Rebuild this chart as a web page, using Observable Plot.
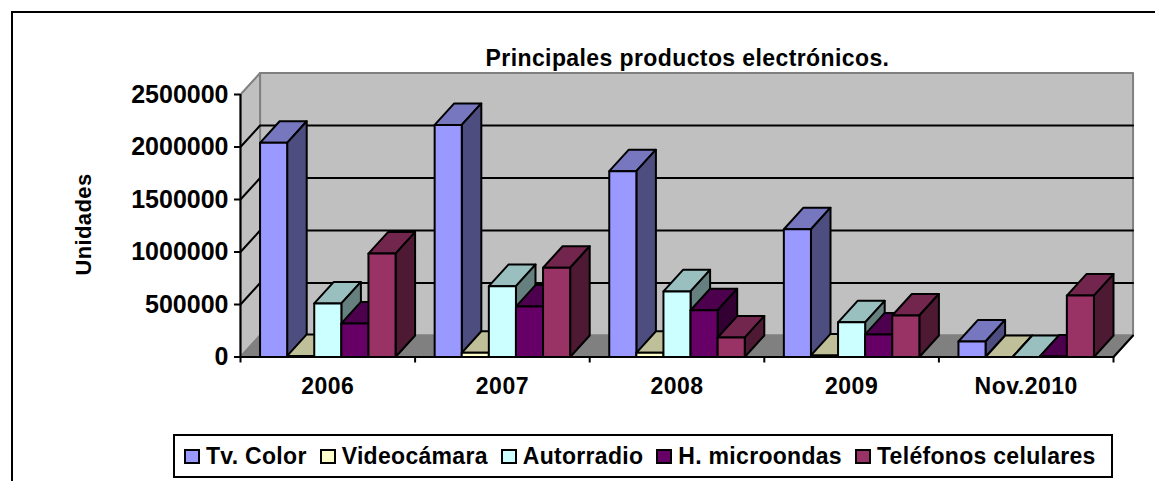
<!DOCTYPE html>
<html><head><meta charset="utf-8">
<script src="https://cdn.jsdelivr.net/npm/d3@7"></script>
<script src="https://cdn.jsdelivr.net/npm/@observablehq/plot@0.6"></script>
<style>
html,body{margin:0;padding:0;background:#fff;overflow:hidden}
#wrap{position:relative;width:1155px;height:481px;overflow:hidden;font-family:"Liberation Sans",Arial,sans-serif}
#frame{position:absolute;left:11px;top:11px;width:2000px;height:2000px;border:2px solid #000;box-sizing:border-box}
#chart{position:absolute;left:0;top:0}
#chart svg{background:transparent;display:block}
#chart g[aria-label="x-axis tick label"] text{letter-spacing:.5px}
#chart g[aria-label="text"] text{letter-spacing:.4px}
#legend{position:absolute;left:173px;top:434px;width:940px;height:44px;box-sizing:border-box;border:2px solid #000;background:#fff;display:flex;align-items:center;font-weight:bold;font-size:23px;letter-spacing:.3px;color:#000;white-space:nowrap;padding-left:9px}
#legend .sw{display:inline-block;width:16px;height:15px;border:2px solid #000;box-sizing:border-box;margin-right:6px}
#legend .it{display:flex;align-items:center;margin-right:13px}
</style></head><body>
<div id="wrap"><div id="frame"></div><div id="chart"></div><div id="legend"></div></div>
<script>
const categories = ["2006","2007","2008","2009","Nov.2010"];
const seriesNames = ["Tv. Color","Videocámara","Autorradio","H. microondas","Teléfonos celulares"];
const tvColor = [2040000,2210000,1770000,1217000,148000];
const videocamara = [10000,40000,40000,15000,0];
const autorradio = [510000,675000,625000,330000,0];
const microondas = [320000,480000,445000,215000,5000];
const telefonos = [985000,850000,185000,395000,585000];
const yTicks = [0,500000,1000000,1500000,2000000,2500000];
const frontColors = ["#9999FF","#FFFFCC","#CCFFFF","#660066","#993366"];
const topColors = ["#7777BF","#BFBF99","#99BFBF","#4D004D","#73264D"];
const sideColors = ["#4D4D80","#808066","#668080","#330033","#4D1933"];

const allSeries = [tvColor,videocamara,autorradio,microondas,telefonos];
const depthX = 0.112, depthY = 205000, gap = 0.112, barW = (1 - 2*gap)/5;
const yMax = 2500000, n = categories.length;

const faces = [];
function face(id, fill, pts){ pts.forEach(([x,y]) => faces.push({id, fill, x, y})); }
categories.forEach((c,i) => allSeries.forEach((s,j) => {
  const x0 = i + gap + j*barW, x1 = x0 + barW, v = s[i];
  face(`${i}-${j}-top`, topColors[j], [[x0,v],[x1,v],[x1+depthX,v+depthY],[x0+depthX,v+depthY]]);
  face(`${i}-${j}-side`, sideColors[j], [[x1,0],[x1+depthX,depthY],[x1+depthX,v+depthY],[x1,v]]);
  face(`${i}-${j}-front`, frontColors[j], [[x0,0],[x1,0],[x1,v],[x0,v]]);
}));

const walls = [];
function wall(id, fill, pts){ pts.forEach(([x,y]) => walls.push({id, fill, x, y})); }
wall("back","#C0C0C0",[[depthX,depthY],[n+depthX,depthY],[n+depthX,yMax+depthY],[depthX,yMax+depthY]]);
wall("side","#C0C0C0",[[0,0],[depthX,depthY],[depthX,yMax+depthY],[0,yMax]]);
wall("floor","#808080",[[0,0],[n,0],[n+depthX,depthY],[depthX,depthY]]);

const grid = yTicks.slice(1,-1).flatMap(v => [
  {v, x:0, y:v},{v, x:depthX, y:v+depthY},{v, x:n+depthX, y:v+depthY}
]);
const edge = [{x:n,y:0},{x:n+depthX,y:depthY}];

const boundaries = d3.range(0,n+1);
const centers = categories.map((c,i)=>i+0.5);

const plot = Plot.plot({
  width:1155, height:481,
  marginLeft:240, marginRight:42, marginTop:94, marginBottom:124.5,
  x:{type:"linear",domain:[0,n]},
  y:{type:"linear",domain:[0,yMax]},
  style:{fontFamily:'"Liberation Sans",Arial,sans-serif',background:"transparent",color:"#000"},
  marks:[
    Plot.line(walls,{x:"x",y:"y",z:"id",fill:{value:"fill",scale:null},stroke:"#808080",strokeWidth:2,curve:"linear-closed"}),
    Plot.line(grid,{x:"x",y:"y",z:"v",stroke:"#000",strokeWidth:2}),
    Plot.line(edge,{x:"x",y:"y",stroke:"#000",strokeWidth:2}),
    Plot.line(faces,{x:"x",y:"y",z:"id",fill:{value:"fill",scale:null},stroke:"#000",strokeWidth:2,strokeLinejoin:"round",curve:"linear-closed"}),
    Plot.ruleX([0],{y1:0,y2:yMax,stroke:"#000",strokeWidth:2}),
    Plot.ruleY([0],{x1:0,x2:n,stroke:"#000",strokeWidth:2}),
    Plot.axisY({ticks:yTicks,tickSize:6,tickPadding:6,tickFormat:d=>String(d),label:null,fontSize:25,fontWeight:"bold",stroke:"#000",strokeWidth:2}),
    Plot.axisX({ticks:boundaries,tickSize:6,tickFormat:()=>"",label:null,stroke:"#000",strokeWidth:2}),
    Plot.axisX({ticks:centers,tickSize:0,tickPadding:21,tickFormat:d=>categories[Math.floor(d)],label:null,fontSize:23,fontWeight:"bold"}),
    Plot.text(["Principales productos electrónicos."],{frameAnchor:"top-left",dx:447,dy:-36,textAnchor:"middle",lineAnchor:"middle",fontSize:23,fontWeight:"bold",fill:"#000"}),
    Plot.text(["Unidades"],{frameAnchor:"top-left",dx:-157,dy:130,textAnchor:"middle",lineAnchor:"middle",rotate:-90,fontSize:22,fontWeight:"bold",fill:"#000"})
  ]
});
document.getElementById("chart").append(plot);

const legend = document.getElementById("legend");
seriesNames.forEach((name,j)=>{
  const it = document.createElement("span"); it.className="it";
  const sw = document.createElement("span"); sw.className="sw"; sw.style.background=frontColors[j];
  const t = document.createElement("span"); t.textContent=name;
  it.append(sw,t); legend.append(it);
});
</script>
</body></html>
